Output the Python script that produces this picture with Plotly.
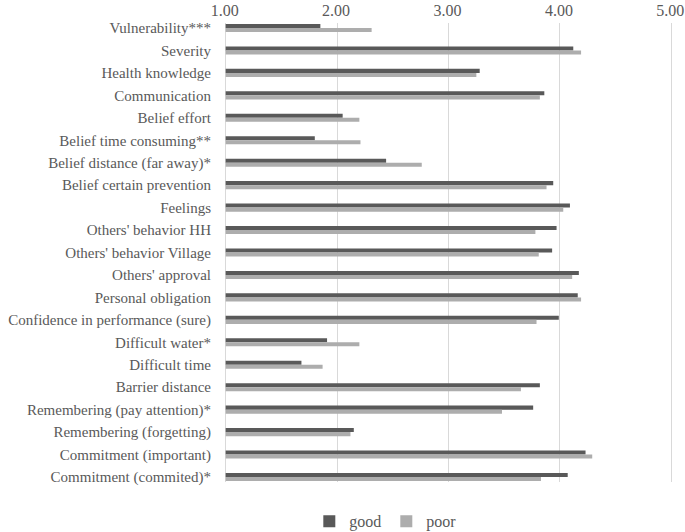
import plotly.graph_objects as go

categories = [
    "Vulnerability***", "Severity", "Health knowledge", "Communication",
    "Belief effort", "Belief time consuming**", "Belief distance (far away)*",
    "Belief certain prevention", "Feelings", "Others' behavior HH",
    "Others' behavior Village", "Others' approval", "Personal obligation",
    "Confidence in performance (sure)", "Difficult water*", "Difficult time",
    "Barrier distance", "Remembering (pay attention)*", "Remembering (forgetting)",
    "Commitment (important)", "Commitment (commited)*",
]
good = [1.85, 4.12, 3.28, 3.86, 2.05, 1.80, 2.44, 3.94, 4.09, 3.97, 3.93,
        4.17, 4.16, 3.99, 1.91, 1.68, 3.82, 3.76, 2.15, 4.23, 4.07]
poor = [2.31, 4.19, 3.25, 3.82, 2.20, 2.21, 2.76, 3.88, 4.03, 3.78, 3.81,
        4.11, 4.19, 3.79, 2.20, 1.87, 3.65, 3.48, 2.12, 4.29, 3.83]
x_ticks = [1, 2, 3, 4, 5]
x_tick_labels = ["1.00", "2.00", "3.00", "4.00", "5.00"]

idx = list(range(len(categories)))
font_family = "Liberation Serif"
text_color = "#595959"

fig = go.Figure()
fig.add_trace(go.Bar(y=idx, x=[v - 1 for v in good], base=1, orientation="h",
                     name="good", marker=dict(color="#595959", line=dict(width=0))))
fig.add_trace(go.Bar(y=idx, x=[v - 1 for v in poor], base=1, orientation="h",
                     name="poor", marker=dict(color="#ADADAD", line=dict(width=0))))

fig.update_layout(
    width=685, height=532,
    margin=dict(l=224, r=12, t=23, b=50, autoexpand=False),
    plot_bgcolor="white", paper_bgcolor="white",
    barmode="group", bargap=0.64, bargroupgap=0,
    font=dict(family=font_family, size=16, color=text_color),
    showlegend=True,
    legend=dict(orientation="h", x=0.19, xanchor="left", y=-0.0485, yanchor="top",
                font=dict(family=font_family, size=16, color=text_color), itemwidth=30,
                traceorder="normal"),
)
fig.update_xaxes(
    side="top", range=[0.985, 5.015], tickvals=x_ticks, ticktext=x_tick_labels,
    showgrid=True, gridcolor="#D9D9D9", gridwidth=1, zeroline=False,
    showline=False, ticks="", automargin=False, ticklabelstandoff=3,
    ticklabeloverflow="allow", ticklabelshift=-1,
    tickfont=dict(family=font_family, size=16, color=text_color),
)
fig.update_yaxes(
    tickvals=idx, ticktext=categories, range=[20.223, -0.223],
    showgrid=False, zeroline=False, showline=False, ticks="", automargin=False,
    ticklabelstandoff=12, tickfont=dict(family=font_family, size=15, color=text_color),
)

# remove the default 8px page margin so the figure fills the window exactly
fig.write_html("out.html", config={"displayModeBar": False},
               post_script="document.body.style.margin='0';")
